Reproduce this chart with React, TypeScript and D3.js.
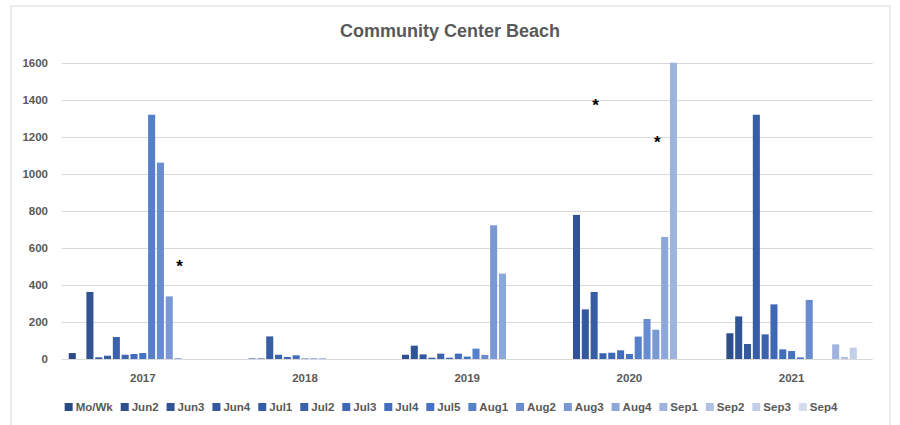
import React, { useEffect, useRef } from 'react'
import * as d3 from 'd3'

const years = ['2017', '2018', '2019', '2020', '2021']
const seriesNames = ['Mo/Wk', 'Jun2', 'Jun3', 'Jun4', 'Jul1', 'Jul2', 'Jul3', 'Jul4', 'Jul5', 'Aug1', 'Aug2', 'Aug3', 'Aug4', 'Sep1', 'Sep2', 'Sep3', 'Sep4']

// one value per series (null = no bar), in seriesNames order
const values2017 = [32, null, 362, 9, 18, 119, 23, 27, 32, 1319, 1060, 338, 5, null, null, null, null]
const values2018 = [null, null, 3, 3, 122, 23, 11, 20, 3, 3, 3, null, null, null, null, null, null]
const values2019 = [null, 23, 72, 25, 7, 29, 7, 29, 13, 56, 22, 722, 461, null, null, null, null]
const values2020 = [null, null, 778, 268, 362, 31, 34, 47, 27, 121, 216, 158, 659, 1600, null, null, null]
const values2021 = [null, 139, 230, 81, 1319, 133, 295, 52, 43, 9, 319, null, null, 79, 11, 61, null]
const valuesByYear = [values2017, values2018, values2019, values2020, values2021]

const yTicks = [0, 200, 400, 600, 800, 1000, 1200, 1400, 1600]

// asterisk notes placed on the chart
const notes = [
  { year: '2017', series: 'Aug4', value: 520 },
  { year: '2020', series: 'Jul1', value: 1389 },
  { year: '2020', series: 'Aug3', value: 1192 }
]

const W = 900
const H = 425
const margin = { top: 62.7, right: 27.3, bottom: 66, left: 61.7 }
const textColor = '#595959'
const font = "'Liberation Sans', Arial, sans-serif"

const colorScale = d3
  .scaleLinear<string>()
  .domain([0, 8, 16])
  .range(['#2a4a84', '#4472c4', '#d4dbef'])
  .interpolate(d3.interpolateRgb)

const Chart = () => {
  const ref = useRef<SVGSVGElement>(null)

  useEffect(() => {
    const svg = d3.select(ref.current)
    svg.selectAll('*').remove()

    const x0 = d3.scaleBand().domain(years).range([margin.left, W - margin.right]).padding(0)
    const x1 = d3
      .scaleBand()
      .domain(seriesNames)
      .range([0, x0.bandwidth()])
      .paddingInner(0.2)
      .paddingOuter(0.8)
    const y = d3.scaleLinear().domain([0, 1600]).range([H - margin.bottom, margin.top])

    // border
    svg
      .append('rect')
      .attr('x', 11)
      .attr('y', 6)
      .attr('width', 879)
      .attr('height', 440)
      .attr('fill', '#fff')
      .attr('stroke', '#d9d9d9')
      .attr('stroke-width', 1)

    // title
    svg
      .append('text')
      .attr('x', 450)
      .attr('y', 37)
      .attr('text-anchor', 'middle')
      .attr('fill', textColor)
      .style('font-family', font)
      .style('font-size', '18px')
      .style('font-weight', 'bold')
      .text('Community Center Beach')

    // grid + y labels
    const grid = svg.append('g')
    grid
      .selectAll('line')
      .data(yTicks)
      .join('line')
      .attr('x1', margin.left)
      .attr('x2', W - margin.right)
      .attr('y1', d => Math.round(y(d)) + 0.5)
      .attr('y2', d => Math.round(y(d)) + 0.5)
      .attr('stroke', '#d9d9d9')
      .attr('stroke-width', 1)
    grid
      .selectAll('text')
      .data(yTicks)
      .join('text')
      .attr('x', 48)
      .attr('y', d => y(d))
      .attr('dy', '0.35em')
      .attr('text-anchor', 'end')
      .attr('fill', textColor)
      .style('font-family', font)
      .style('font-size', '11.5px')
      .style('font-weight', 'bold')
      .text(d => d)

    // bars
    const groups = svg
      .append('g')
      .selectAll('g')
      .data(years)
      .join('g')
      .attr('transform', d => `translate(${x0(d)},0)`)
    groups
      .selectAll('rect')
      .data((d, i) =>
        valuesByYear[i]
          .map((v, j) => ({ name: seriesNames[j], idx: j, v }))
          .filter(e => e.v !== null && e.v !== undefined)
      )
      .join('rect')
      .attr('x', d => x1(d.name) as number)
      .attr('width', x1.bandwidth())
      .attr('y', d => y(d.v as number))
      .attr('height', d => y(0) - y(d.v as number))
      .attr('fill', d => colorScale(d.idx))

    // category labels
    svg
      .append('g')
      .selectAll('text')
      .data(years)
      .join('text')
      .attr('x', d => (x0(d) as number) + x0.bandwidth() / 2)
      .attr('y', y(0) + 23)
      .attr('text-anchor', 'middle')
      .attr('fill', textColor)
      .style('font-family', font)
      .style('font-size', '11.5px')
      .style('font-weight', 'bold')
      .text(d => d)

    // asterisks
    svg
      .append('g')
      .selectAll('text')
      .data(notes)
      .join('text')
      .attr('x', d => (x0(d.year) as number) + (x1(d.series) as number) + x1.bandwidth() / 2 + 1.5)
      .attr('y', d => y(d.value))
      .attr('dy', '0.55em')
      .attr('text-anchor', 'middle')
      .attr('fill', '#000')
      .style('font-family', font)
      .style('font-size', '17px')
      .style('font-weight', 'bold')
      .text('*')

    // legend
    const legend = svg.append('g')
    const items = legend
      .selectAll('g')
      .data(seriesNames)
      .join('g')
    items
      .append('rect')
      .attr('width', 8)
      .attr('height', 8)
      .attr('y', -4)
      .attr('fill', (d, i) => colorScale(i))
    items
      .append('text')
      .attr('x', 11)
      .attr('dy', '0.35em')
      .attr('fill', textColor)
      .style('font-family', font)
      .style('font-size', '11.5px')
      .style('font-weight', 'bold')
      .text(d => d)
    const widths: number[] = []
    items.each(function () {
      const t = d3.select(this).select('text').node() as SVGTextElement
      widths.push(11 + t.getComputedTextLength())
    })
    const gap = 8
    const total = d3.sum(widths) + gap * (widths.length - 1)
    let cx = 451 - total / 2
    items.attr('transform', (d, i) => {
      const tx = cx
      cx += widths[i] + gap
      return `translate(${tx},407)`
    })
  }, [])

  return <svg ref={ref} width={W} height={H} style={{ position: 'absolute', left: 0, top: 0 }} />
}

export default function App() {
  return <Chart />
}
